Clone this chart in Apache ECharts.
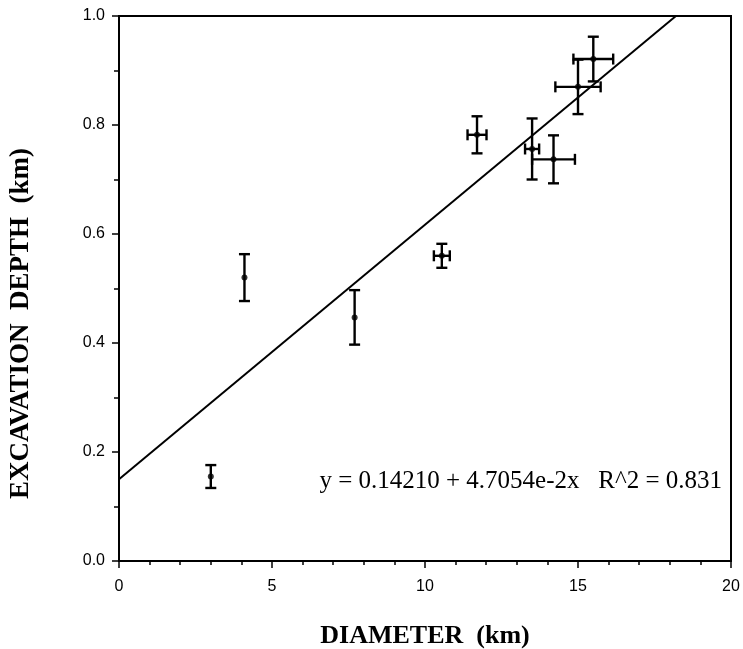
<!DOCTYPE html>
<html>
<head>
<meta charset="utf-8">
<script src="https://cdn.jsdelivr.net/npm/echarts@6/dist/echarts.min.js"></script>
<style>
  html, body { margin: 0; padding: 0; background: #fff; }
  #chart { width: 743px; height: 649px; }
</style>
</head>
<body>
<div id="chart"></div>
<script>
const diameter = [3.0, 4.1, 7.7, 10.55, 11.7, 13.5, 14.2, 15.0, 15.5];
const depth = [0.155, 0.52, 0.447, 0.56, 0.782, 0.756, 0.737, 0.87, 0.921];
const diameterErr = [0, 0, 0, 0.26, 0.31, 0.23, 0.7, 0.74, 0.65];
const depthErr = [0.021, 0.043, 0.05, 0.022, 0.034, 0.056, 0.044, 0.05, 0.041];

// fitted line as drawn
const fitX = [0, 18.2];
const fitY = [0.15, 1.0];

const fitLabel = "y = 0.14210 + 4.7054e-2x   R^2 = 0.831";

const points = diameter.map((d, i) => [d, depth[i]]);
const bars = diameter.map((d, i) => [d, depth[i], diameterErr[i], depthErr[i]]);
const fitLine = fitX.map((x, i) => [x, fitY[i]]);

let chart = echarts.init(document.getElementById("chart"));

function errorBar(params, api) {
  let x = api.value(0), y = api.value(1);
  let ex = api.value(2), ey = api.value(3);
  let style = { stroke: "#000", lineWidth: 2.4 };
  let cap = 5.5;
  let top = api.coord([x, y + ey]);
  let bot = api.coord([x, y - ey]);
  let children = [
    { type: "line", shape: { x1: top[0], y1: top[1], x2: bot[0], y2: bot[1] }, style },
    { type: "line", shape: { x1: top[0] - cap, y1: top[1], x2: top[0] + cap, y2: top[1] }, style },
    { type: "line", shape: { x1: bot[0] - cap, y1: bot[1], x2: bot[0] + cap, y2: bot[1] }, style }
  ];
  if (ex > 0) {
    let l = api.coord([x - ex, y]);
    let r = api.coord([x + ex, y]);
    children.push(
      { type: "line", shape: { x1: l[0], y1: l[1], x2: r[0], y2: r[1] }, style },
      { type: "line", shape: { x1: l[0], y1: l[1] - cap, x2: l[0], y2: l[1] + cap }, style },
      { type: "line", shape: { x1: r[0], y1: r[1] - cap, x2: r[0], y2: r[1] + cap }, style }
    );
  }
  return { type: "group", children };
}

chart.setOption({
  animation: false,
  backgroundColor: "#fff",
  grid: {
    left: 119, right: 12, top: 16, bottom: 88,
    outerBoundsMode: "none",
    show: true, borderColor: "#000", borderWidth: 2
  },
  xAxis: {
    type: "value", min: 0, max: 20, interval: 5,
    name: "DIAMETER  (km)", nameLocation: "middle", nameGap: 62,
    nameTextStyle: { fontFamily: "Liberation Serif", fontWeight: "bold", fontSize: 26, color: "#000" },
    axisLine: { show: true, lineStyle: { color: "#000", width: 2 } },
    axisTick: { show: true, length: 7, lineStyle: { color: "#000", width: 1.5 } },
    minorTick: { show: true, splitNumber: 5, length: 4, lineStyle: { color: "#000", width: 1.5 } },
    splitLine: { show: false },
    axisLabel: { margin: 18, fontFamily: "Liberation Sans", fontSize: 16, color: "#000" }
  },
  yAxis: {
    type: "value", min: 0, max: 1, interval: 0.2,
    name: "EXCAVATION  DEPTH  (km)", nameLocation: "middle", nameGap: 84, nameRotate: 90,
    nameTextStyle: {
      fontFamily: "Liberation Serif", fontWeight: "bold", fontSize: 27, color: "#000",
      padding: [0, 70, 0, 0]
    },
    axisLine: { show: true, lineStyle: { color: "#000", width: 2 } },
    axisTick: { show: true, length: 7, lineStyle: { color: "#000", width: 1.5 } },
    minorTick: { show: true, splitNumber: 2, length: 5, lineStyle: { color: "#000", width: 1.5 } },
    splitLine: { show: false },
    axisLabel: {
      margin: 14, fontFamily: "Liberation Sans", fontSize: 16, color: "#000",
      formatter: (v) => v.toFixed(1)
    }
  },
  graphic: [{
    type: "text", right: 21, top: 469,
    style: { text: fitLabel, font: "25px 'Liberation Serif'", fill: "#000" }
  }],
  series: [
    {
      type: "line", data: fitLine, symbol: "none",
      lineStyle: { color: "#000", width: 2 }
    },
    {
      type: "custom", data: bars, renderItem: errorBar,
      encode: { x: 0, y: 1 }
    },
    {
      type: "scatter", data: points, symbol: "circle", symbolSize: 6,
      itemStyle: { color: "#000" }
    }
  ]
});
</script>
</body>
</html>
